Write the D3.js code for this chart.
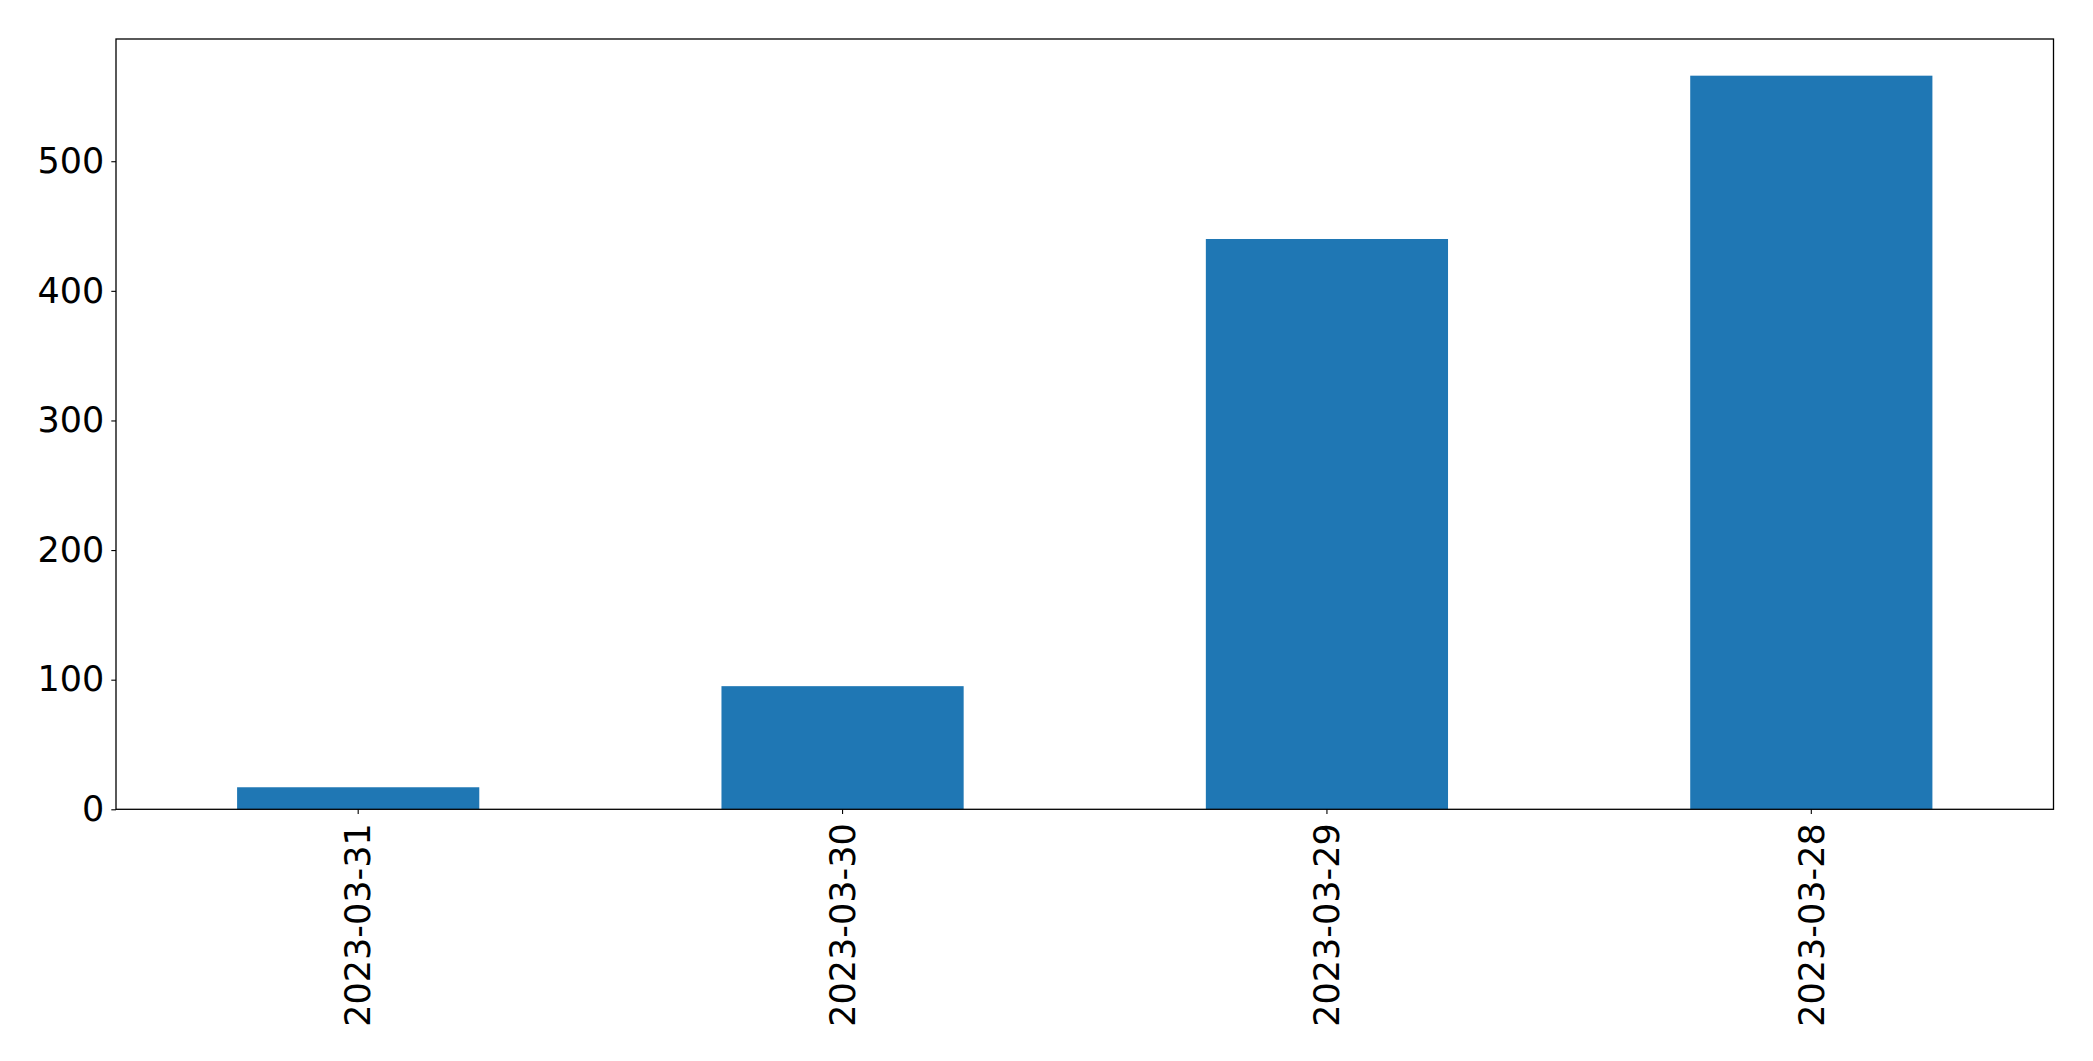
<!DOCTYPE html>
<html>
<head>
<meta charset="utf-8">
<script src="https://cdn.jsdelivr.net/npm/d3@7"></script>
<style>
html,body{margin:0;padding:0;background:#fff;}
svg{display:block;}
text{font-family:"DejaVu Sans",sans-serif;}
</style>
</head>
<body>
<svg id="chart" width="2093" height="1061"></svg>
<script>
const categories = ["2023-03-31", "2023-03-30", "2023-03-29", "2023-03-28"];
const values = [17, 95, 440, 566];
const yTicks = [0, 100, 200, 300, 400, 500];

const W = 2093, H = 1061;
const margin = {left: 116, right: 2093 - 2053.5, top: 39, bottom: 1061 - 809.3};
const svg = d3.select("#chart");
const iw = W - margin.left - margin.right;
const ih = H - margin.top - margin.bottom;
const g = svg.append("g").attr("transform", `translate(${margin.left},${margin.top})`);

const x = d3.scaleBand().domain(categories).range([0, iw]).paddingInner(0.5).paddingOuter(0.25);
const y = d3.scaleLinear().domain([0, d3.max(values) * 1.05]).range([ih, 0]);

g.selectAll("rect.bar").data(values).join("rect")
  .attr("class", "bar")
  .attr("x", (d, i) => x(categories[i]))
  .attr("y", d => y(d))
  .attr("width", x.bandwidth())
  .attr("height", d => ih - y(d))
  .attr("fill", "#1f77b4");

const fs = 35;
const yAxis = g.append("g").call(d3.axisLeft(y).tickValues(yTicks).tickSize(4.7).tickPadding(7));
yAxis.select(".domain").remove();
yAxis.selectAll("text").attr("font-size", fs).attr("fill", "#000").style("font-family", "DejaVu Sans");
yAxis.selectAll("line").attr("stroke", "#000").attr("stroke-width", 1.1);

const xAxis = g.append("g").attr("transform", `translate(0,${ih})`)
  .call(d3.axisBottom(x).tickSize(4.7).tickSizeOuter(0));
xAxis.select(".domain").remove();
xAxis.selectAll("line").attr("stroke", "#000").attr("stroke-width", 1.1);
xAxis.selectAll("text")
  .attr("font-size", fs).attr("fill", "#000").style("font-family", "DejaVu Sans")
  .attr("transform", "rotate(-90)")
  .attr("x", -14).attr("y", 0).attr("dy", "0.35em")
  .attr("text-anchor", "end");

g.append("rect").attr("x", 0).attr("y", 0).attr("width", iw).attr("height", ih)
  .attr("fill", "none").attr("stroke", "#000").attr("stroke-width", 1.3);
</script>
</body>
</html>
